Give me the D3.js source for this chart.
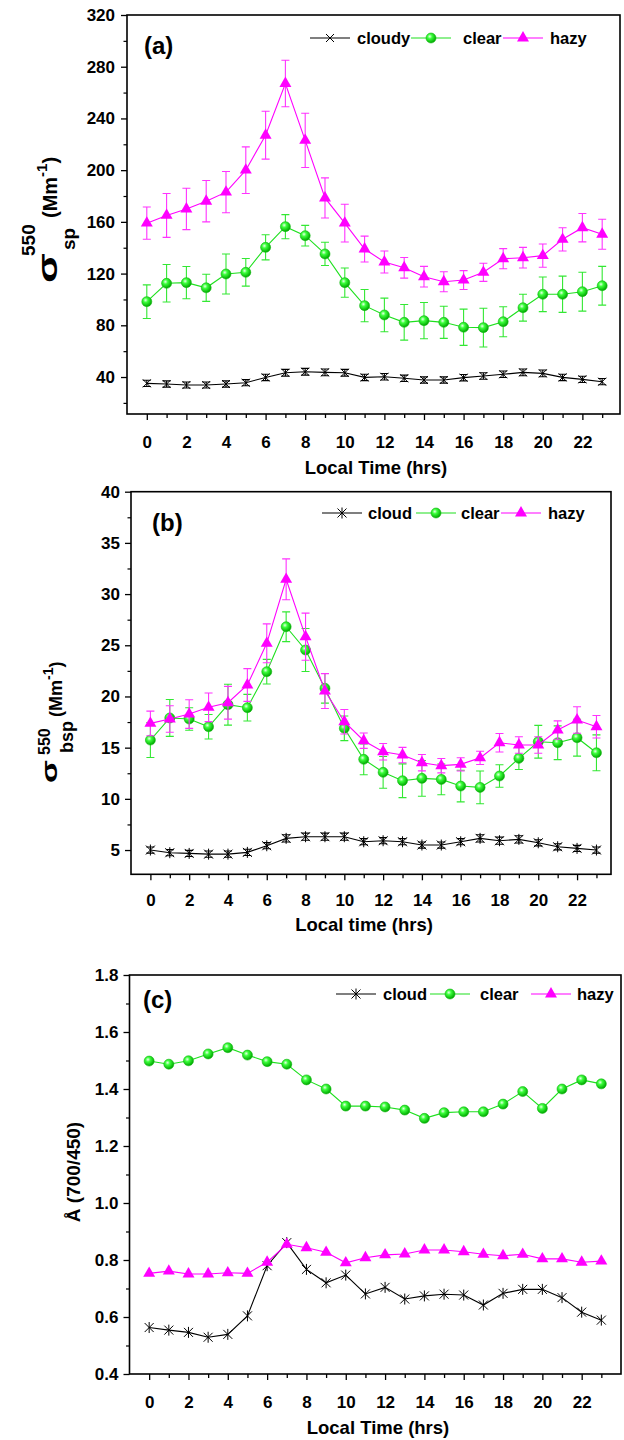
<!DOCTYPE html>
<html><head><meta charset="utf-8">
<script src="https://cdn.jsdelivr.net/npm/d3@7"></script>
<style>
body{margin:0;background:#fff}
svg{display:block}
text{font-family:Arial,"Liberation Sans",sans-serif;font-weight:bold;fill:#000}
</style>
</head><body>
<svg id="chart" width="624" height="1440"></svg>
<script>
// ---------- data ----------
const hours = [0,1,2,3,4,5,6,7,8,9,10,11,12,13,14,15,16,17,18,19,20,21,22,23];
const xTickLabels = [0,2,4,6,8,10,12,14,16,18,20,22];

// panel (a): sigma_sp 550 (Mm^-1)
const aCloudy    = [35.1,34.6,33.8,33.8,34.6,35.6,39.7,43.3,44.1,43.6,43.3,39.7,40.2,39.0,37.7,37.7,39.5,40.8,42.1,43.6,42.8,39.7,38.2,36.4];
const aCloudyErr = [2.4,2.4,2.3,2.3,2.4,2.4,2.5,2.6,2.6,2.6,2.6,2.5,2.5,2.5,2.4,2.4,2.5,2.5,2.5,2.6,2.6,2.5,2.4,2.4];
const aClear     = [98.3,112.5,113,109,119.7,121,140.3,156.3,149.3,135.2,113,95.2,88,82.3,83.6,82.3,78.5,78.2,82.8,93.6,104,104,106,110.6];
const aClearErr  = [13,14.5,12.5,10.5,15.5,10.7,9.7,9.3,8,9,11.3,12.5,13,13.8,14,12.4,14,15,11.6,10.4,13.4,14,15,15];
const aHazy      = [159,165,170,176,183,200,227,267,223,178.5,159,139,129,124.5,117.6,113.7,115,121,131.5,132.3,133.9,146.5,155.5,150.4];
const aHazyErr   = [12.5,17,16,16,16,18,18.5,18,21,15.5,14.6,10,8.5,8,8,7.7,7.3,7,7.8,8,9,9,11,11.6];
const aYTicks    = [40,80,120,160,200,240,280,320];
const aYMinor    = [20,60,100,140,180,220,260,300];
const aLegend    = ["cloudy","clear","hazy"];

// panel (b): sigma_bsp 550 (Mm^-1)
const bCloud     = [5.0,4.74,4.67,4.6,4.6,4.77,5.42,6.14,6.3,6.3,6.3,5.81,5.91,5.81,5.49,5.49,5.81,6.14,5.91,6.04,5.71,5.32,5.16,5.0];
const bCloudErr  = [0.3,0.3,0.3,0.3,0.3,0.3,0.3,0.35,0.35,0.35,0.35,0.3,0.3,0.3,0.3,0.3,0.3,0.35,0.35,0.35,0.3,0.3,0.3,0.3];
const bClear     = [15.74,17.9,17.8,17.04,19.2,18.9,22.42,26.81,24.54,20.8,16.89,13.86,12.59,11.77,12.0,11.9,11.25,11.12,12.23,13.96,15.58,15.48,15.97,14.5];
const bClearErr  = [1.7,1.8,1.1,1.2,2.0,1.3,1.2,1.45,2.1,1.45,1.2,1.5,1.55,1.65,1.75,1.5,1.55,1.6,1.1,1.1,1.6,1.65,1.8,1.75];
const bHazy      = [17.37,17.8,18.28,18.94,19.39,21.12,25.19,31.44,25.84,20.53,17.53,15.68,14.6,14.28,13.53,13.24,13.37,14.0,15.48,15.26,15.26,16.72,17.7,17.04];
const bHazyErr   = [1.2,1.3,1.4,1.4,1.6,1.6,1.9,2.0,2.3,1.7,1.2,0.75,0.8,0.75,0.8,0.7,0.65,0.65,0.9,0.8,0.8,0.9,1.3,1.1];
const bYTicks    = [5,10,15,20,25,30,35,40];
const bYMinor    = [7.5,12.5,17.5,22.5,27.5,32.5,37.5];
const bLegend    = ["cloud","clear","hazy"];

// panel (c): Angstrom exponent (700/450)
const cCloud     = [0.563,0.554,0.546,0.529,0.539,0.604,0.780,0.861,0.767,0.720,0.747,0.681,0.704,0.663,0.674,0.680,0.677,0.642,0.683,0.697,0.697,0.668,0.617,0.589];
const cClear     = [1.498,1.487,1.499,1.523,1.545,1.519,1.496,1.487,1.432,1.400,1.340,1.340,1.337,1.326,1.297,1.317,1.320,1.320,1.347,1.391,1.332,1.400,1.432,1.418];
const cHazy      = [0.753,0.761,0.751,0.751,0.755,0.753,0.792,0.855,0.843,0.827,0.790,0.808,0.818,0.821,0.835,0.835,0.829,0.820,0.815,0.820,0.804,0.804,0.792,0.796];
const cYTicks    = [0.4,0.6,0.8,1.0,1.2,1.4,1.6,1.8];
const cYMinor    = [0.5,0.7,0.9,1.1,1.3,1.5,1.7];
const cLegend    = ["cloud","clear","hazy"];

// ---------- styles ----------
const GREEN = "#1ee01e", MAGENTA = "#ff00ff", BLACK = "#000";
const svg = d3.select("#chart");
const defs = svg.append("defs");
const grad = defs.append("radialGradient").attr("id","ball").attr("cx","38%").attr("cy","35%").attr("r","65%");
grad.append("stop").attr("offset","0%").attr("stop-color","#e8ffe8");
grad.append("stop").attr("offset","35%").attr("stop-color","#3cff3c");
grad.append("stop").attr("offset","100%").attr("stop-color","#00a800");

function drawMarker(g, type, x, y){
  if(type==="circle"){
    g.append("circle").attr("cx",x).attr("cy",y).attr("r",5).attr("fill","url(#ball)").attr("stroke","#12b812").attr("stroke-width",0.6);
  } else if(type==="triangle"){
    g.append("path").attr("d",d3.symbol(d3.symbolTriangle,62)()).attr("transform",`translate(${x},${y})`).attr("fill",MAGENTA);
  } else if(type==="cross"){
    g.append("path").attr("d","M-4,-4L4,4M-4,4L4,-4").attr("transform",`translate(${x},${y})`).attr("stroke",BLACK).attr("stroke-width",1).attr("fill","none");
  } else if(type==="star"){
    g.append("path").attr("d","M0,-5.5V5.5M-4.5,-4.5L4.5,4.5M-4.5,4.5L4.5,-4.5").attr("transform",`translate(${x},${y})`).attr("stroke",BLACK).attr("stroke-width",1).attr("fill","none");
  }
}

function panel(cfg){
  const g = svg.append("g");
  const x = d3.scaleLinear().domain(cfg.xDom).range([cfg.left,cfg.right]);
  const y = d3.scaleLinear().domain(cfg.yDom).range([cfg.bottom,cfg.top]);

  // x axis
  const xa = g.append("g").attr("transform",`translate(0,${cfg.bottom})`)
    .call(d3.axisBottom(x).tickValues(hours).tickSize(6).tickPadding(cfg.xPad)
      .tickFormat(d => xTickLabels.includes(d) ? String(d) : ""));
  xa.selectAll(".tick line").attr("y2", d => xTickLabels.includes(d) ? 6 : 4).attr("stroke-width",1.3);
  xa.selectAll("text").attr("font-size",17);
  xa.select(".domain").remove();

  // y axis
  const ya = g.append("g").attr("transform",`translate(${cfg.left},0)`)
    .call(d3.axisLeft(y).tickValues(cfg.yTicks).tickSize(6).tickPadding(cfg.yPad).tickFormat(cfg.yFmt));
  ya.selectAll("text").attr("font-size",17);
  ya.selectAll(".tick line").attr("stroke-width",1.3);
  ya.select(".domain").remove();
  const ym = g.append("g").attr("transform",`translate(${cfg.left},0)`)
    .call(d3.axisLeft(y).tickValues(cfg.yMinor).tickSize(3.5).tickFormat(""));
  ym.selectAll(".tick line").attr("stroke-width",1.2);
  ym.select(".domain").remove();

  // frame
  g.append("rect").attr("x",cfg.left).attr("y",cfg.top)
    .attr("width",cfg.right-cfg.left).attr("height",cfg.bottom-cfg.top)
    .attr("fill","none").attr("stroke",BLACK).attr("stroke-width",1.6);

  // series
  cfg.series.forEach(s => {
    const sg = g.append("g");
    if(s.err){
      hours.forEach((h,i) => {
        const xx = x(h), y1 = y(s.vals[i]+s.err[i]), y0 = y(s.vals[i]-s.err[i]);
        sg.append("path").attr("d",`M${xx},${y0}V${y1}M${xx-4},${y1}H${xx+4}M${xx-4},${y0}H${xx+4}`)
          .attr("stroke",s.errColor).attr("stroke-width",1.1).attr("fill","none");
      });
    }
    const line = d3.line().x((d,i)=>x(hours[i])).y(d=>y(d));
    sg.append("path").attr("d",line(s.vals)).attr("fill","none").attr("stroke",s.color).attr("stroke-width",1.1);
    hours.forEach((h,i) => drawMarker(sg, s.marker, x(h), y(s.vals[i])));
  });

  // legend
  const lg = g.append("g");
  cfg.legend.forEach((it,i) => {
    const s = cfg.series[i];
    lg.append("line").attr("x1",it.lx).attr("x2",it.lx+40).attr("y1",cfg.legY).attr("y2",cfg.legY)
      .attr("stroke",s.color).attr("stroke-width",1.1);
    drawMarker(lg, s.legMarker || s.marker, it.lx+20, cfg.legY);
    lg.append("text").attr("x",it.tx).attr("y",cfg.legY+6).attr("font-size",16.5).text(cfg.legendNames[i]);
  });

  // panel label
  g.append("text").attr("x",cfg.labX).attr("y",cfg.labY).attr("font-size",24).text(cfg.label);
  // x title
  g.append("text").attr("x",cfg.xtX).attr("y",cfg.xtY).attr("text-anchor","middle").attr("font-size",18.5).text(cfg.xTitle);
  return {x,y,g};
}

// ---------- panel (a) ----------
panel({
  left:127,right:620,top:15,bottom:414,xDom:[-1,23.9],yDom:[11.4,320],
  yTicks:aYTicks,yMinor:aYMinor,yFmt:d3.format("d"),xPad:16,yPad:6,
  series:[
    {vals:aCloudy,err:aCloudyErr,color:BLACK,errColor:BLACK,marker:"cross"},
    {vals:aClear,err:aClearErr,color:GREEN,errColor:"#33e833",marker:"circle"},
    {vals:aHazy,err:aHazyErr,color:MAGENTA,errColor:"#ff33ff",marker:"triangle"}
  ],
  legY:38,legendNames:aLegend,
  legend:[{lx:310,tx:357},{lx:411,tx:463},{lx:503,tx:550}],
  label:"(a)",labX:144,labY:54,xTitle:"Local Time (hrs)",xtX:376,xtY:474
});

// ---------- panel (b) ----------
panel({
  left:131,right:611,top:491.7,bottom:874.3,xDom:[-1,23.75],yDom:[2.63,40],
  yTicks:bYTicks,yMinor:bYMinor,yFmt:d3.format("d"),xPad:14,yPad:5,
  series:[
    {vals:bCloud,err:bCloudErr,color:BLACK,errColor:BLACK,marker:"star"},
    {vals:bClear,err:bClearErr,color:GREEN,errColor:"#33e833",marker:"circle"},
    {vals:bHazy,err:bHazyErr,color:MAGENTA,errColor:"#ff33ff",marker:"triangle"}
  ],
  legY:513,legendNames:bLegend,
  legend:[{lx:322,tx:368},{lx:416,tx:461},{lx:501,tx:548}],
  label:"(b)",labX:152,labY:531,xTitle:"Local time (hrs)",xtX:364,xtY:931
});

// ---------- panel (c) ----------
panel({
  left:129.5,right:621,top:975,bottom:1374,xDom:[-1,24],yDom:[0.4,1.8],
  yTicks:cYTicks,yMinor:cYMinor,yFmt:d3.format(".1f"),xPad:16,yPad:5,
  series:[
    {vals:cCloud,err:null,color:BLACK,marker:"star"},
    {vals:cClear,err:null,color:GREEN,marker:"circle"},
    {vals:cHazy,err:null,color:MAGENTA,marker:"triangle"}
  ],
  legY:994,legendNames:cLegend,
  legend:[{lx:336,tx:383},{lx:430,tx:480},{lx:531,tx:577}],
  label:"(c)",labX:143,labY:1008,xTitle:"Local Time (hrs)",xtX:378,xtY:1434
});

// ---------- y titles ----------
// (a)
{
  const t = svg.append("g").attr("transform","translate(57,283) rotate(-90)");
  t.append("text").attr("x",0).attr("y",0).attr("font-size",27).attr("textLength",30).attr("lengthAdjust","spacingAndGlyphs").text("σ");
  t.append("text").attr("x",27).attr("y",-22).attr("font-size",19).text("550");
  t.append("text").attr("x",33).attr("y",18).attr("font-size",19).text("sp");
  const m = t.append("text").attr("x",65).attr("y",0).attr("font-size",20);
  m.append("tspan").text("(Mm");
  m.append("tspan").attr("dy",-10).attr("font-size",15).text("-1");
  m.append("tspan").attr("dy",10).text(")");
}
// (b)
{
  const t = svg.append("g").attr("transform","translate(57,783) rotate(-90)");
  t.append("text").attr("x",0).attr("y",0).attr("font-size",22).attr("textLength",23).attr("lengthAdjust","spacingAndGlyphs").text("σ");
  t.append("text").attr("x",28).attr("y",-7).attr("font-size",16).text("550");
  t.append("text").attr("x",30).attr("y",16).attr("font-size",18).text("bsp");
  const m = t.append("text").attr("x",66).attr("y",5).attr("font-size",18);
  m.append("tspan").text("(Mm");
  m.append("tspan").attr("dy",-9).attr("font-size",14).text("-1");
  m.append("tspan").attr("dy",9).text(")");
}
// (c)
svg.append("text").attr("transform","translate(80,1172) rotate(-90)").attr("text-anchor","middle")
  .attr("font-size",19).text("Å (700/450)");
</script>
</body></html>
